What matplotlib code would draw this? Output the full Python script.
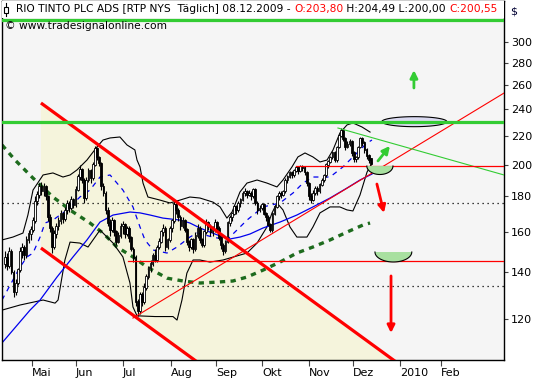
import numpy as np
import matplotlib
matplotlib.use("Agg")
import matplotlib.pyplot as plt
from matplotlib.patches import Rectangle, FancyArrowPatch, Polygon

# ---------------- data (daily bars, Apr..Dec 8 2009) ----------------
opens = [144,147,143,150,140,131,135,141,150,152,148,156,159,161,166,177,181,186,183,186,
         180,168,162,152,159,163,166,170,167,172,176,173,178,175,184,192,197,190,179,190,
         196,191,200,211,205,201,186,182,172,165,161,166,160,155,158,163,164,159,162,157,
         151,147,127,123,130,127,133,138,142,144,148,146,152,155,160,162,152,156,162,166,
         175,172,168,163,166,161,155,152,156,151,158,162,156,153,160,165,163,160,161,165,
         162,157,153,150,155,165,168,170,174,172,176,178,182,183,181,182,180,184,176,172,
         173,175,170,168,164,161,170,174,180,182,181,183,190,192,195,193,196,198,196,199,
         198,195,188,180,178,182,185,183,187,190,193,200,202,205,208,203,212,220,224,218,
         212,214,216,208,204,205,212,218,215,210,206,203.80]
highs = [150,149,152,151,141,137,142,152,154,153,158,161,163,168,180,183,188,189,188,187,
         181,170,163,161,165,168,172,171,174,178,177,180,179,186,194,200,198,191,192,198,
         197,202,213,212,206,202,188,183,174,167,168,167,161,160,165,166,165,163,163,158,
         152,148,128,131,131,135,139,143,146,149,151,153,157,161,164,163,157,163,167,177,
         177,173,169,168,167,162,156,157,157,160,164,163,157,161,167,166,164,163,167,166,
         163,158,154,156,166,169,171,175,175,177,179,183,185,184,184,183,185,185,177,175,
         176,176,171,169,165,171,175,181,183,183,184,191,193,196,196,197,199,199,200,200,
         199,196,189,182,184,186,186,188,191,194,201,203,206,209,209,213,221,226,225,219,
         216,218,217,209,206,213,219,219,216,211,207,204.49]
lows = [142,141,142,139,129,130,134,140,147,146,147,154,156,160,165,175,179,181,180,178,
        166,160,149,151,157,161,164,165,166,170,171,172,173,174,183,190,188,176,178,189,
        188,190,199,203,199,184,180,170,163,158,160,158,153,154,157,159,157,158,155,150,
        145,125,121,122,125,126,132,137,140,143,145,145,151,154,158,150,151,155,160,165,
        170,166,161,162,160,153,150,151,149,150,157,154,152,152,159,161,158,158,160,160,
        156,151,148,149,154,163,166,169,170,171,174,177,180,179,180,178,179,175,170,171,
        172,169,166,163,160,160,169,173,178,179,180,182,188,191,191,192,195,194,195,196,
        193,186,178,176,177,181,181,182,186,189,192,198,201,204,202,202,211,219,216,210,
        211,213,206,202,202,204,211,213,208,204,201,200.00]
closes = [147,143,150,140,131,135,141,150,152,148,156,159,161,166,177,181,186,183,186,180,
          168,162,152,159,163,166,170,167,172,176,173,178,175,184,192,197,190,179,190,196,
          191,200,211,205,201,186,182,172,165,161,166,160,155,158,163,164,159,162,157,151,
          147,127,123,130,127,133,138,142,144,148,146,152,155,160,162,152,156,162,166,175,
          172,168,163,166,161,155,152,156,151,158,162,156,153,160,165,163,160,161,165,162,
          157,153,150,155,165,168,170,174,172,176,178,182,183,181,182,180,184,176,172,173,
          175,170,168,164,161,170,174,180,182,181,183,190,192,195,193,196,198,196,199,198,
          195,188,180,178,182,185,183,187,190,193,200,202,205,208,203,212,220,224,218,212,
          214,216,208,204,205,212,218,215,210,206,203,200.55]

# indicator lines (bar index, price)
bb_up_x = [-1.4,3.7,8.4,10.7,13.1,17.8,22.4,27.1,30.4,33.6,38.3,43,45.8,49.1,53.7,57,60.7,61.7,63.1,64.5,
           66.8,72.4,77.1,81.8,86.4,91.1,97.2,100.5,103.7,106.1,109.8,113.1,117.8,122.4,127.1,129.9,
           134.1,136.9,140.2,143.9,147.2,150.5,153.3,156.5,159.8,162.6,166.8,170.6]
bb_up_y = [155.8,157.3,159.4,169.2,183.8,193.2,194.5,191.9,193.2,196.4,203.0,212.0,216.9,218.4,219.1,213.4,209.9,203.0,198.4,188.1,
           179.6,177.8,176.1,177.8,179.6,179.0,176.6,173.8,167.5,170.9,182.6,188.1,190.0,188.1,185.7,190.0,
           198.4,205.1,207.8,205.1,201.7,203.0,209.9,222.0,228.0,229.5,226.5,222.7]
bb_lo_x = [-1.4,7,17.8,23.4,24.8,28,30.4,35,38.8,44.4,50.5,55.1,58.4,59.8,61.7,70.1,78.5,80.4,82.7,85,87.9,
           91.1,95.8,101.9,109.8,113.1,117.8,122.4,124.8,127.1,129.9,133.2,136.4,141.1,143.9,147.2,151.9,
           156.5,159.8,162.6,165.9,169.2,171.5]
bb_lo_y = [123.5,125.6,127.7,126.4,127.7,145.8,154.7,154.2,152.2,161.0,154.2,147.3,135.1,124.8,121.2,120.9,120.9,119.5,127.7,139.6,145.8,
           145.8,144.8,145.8,148.2,149.2,154.2,162.6,170.4,176.1,172.1,162.6,157.3,157.3,162.6,170.4,173.8,
           173.8,172.1,171.5,180.8,195.1,201.0]
ma50_x = [-1.4,11.7,16.4,24.3,31.8,38.3,44.4,50.5,58.4,63.1,67.8,73.8,81.8,86.4,91.1,95.8,101.9,105.1,
          109.8,114.5,120.6,128.5,136.4,143.9,151.9,159.8,165.9,171.5]
ma50_y = [110.8,123.5,127.7,137.8,147.3,155.8,165.3,169.2,170.9,170.4,169.2,167.5,166.4,164.8,162.1,159.9,157.3,156.3,
          157.3,158.9,162.1,165.3,169.2,173.8,179.0,185.0,190.0,193.8]
ma20_x = [-1.4,7,10.3,13.1,16.4,18.7,22.4,29,35,39.7,44.4,49.1,55.1,59.8,63.1,65.4,69.2,75.7,80.4,86.4,
          89.7,97.2,103.7,108.4,113.1,120.6,128.5,134.6,139.3,143.9,151.9,157.9,165.9,169.2,171.5]
ma20_y = [127.7,142.4,147.3,149.2,157.3,164.8,166.4,172.1,179.6,183.8,191.9,193.2,183.8,173.8,162.6,155.8,150.7,149.2,152.2,157.3,
          159.4,157.3,155.8,161.0,166.4,173.8,176.1,182.0,188.1,191.9,191.9,198.4,209.9,214.8,216.9]
ma200_x = [-1.4,4.7,13.1,22.4,31.8,39.7,45.8,52.3,59.8,66.4,75.7,83.2,91.1,99.1,106.5,113.1,120.6,
           128.5,136.4,143.9,151.9,159.8,167.3,170.6]
ma200_y = [213.4,203.0,191.2,179.6,170.9,164.8,159.4,152.2,147.3,142.4,137.3,136.0,135.1,135.5,136.0,137.8,141.0,
           144.8,149.2,152.2,155.8,159.9,163.7,164.8]

# drawn trend lines / levels (bar index, price)
channel_top = [(16.8, 245.2), (190.0, 100.2)]
channel_bot = [(16.8, 151.7), (100.0, 98.7)]
rise_line = [(59.8, 120.3), (233.2, 253.4)]
fall_line = [(155.6, 225.7), (233.2, 193.2)]
red_levels = [(199.0, 136.0), (145.2, 57.5)]
green_levels = [322.7, 230.5]
dotted_levels = [176.1, 133.8]

month_labels = ["Mai", "Jun", "Jul", "Aug", "Sep", "Okt", "Nov", "Dez", "2010", "Feb"]
month_pos = [12.6, 33.2, 55.1, 77.6, 98.6, 120.1, 142.1, 162.6, 184.6, 203.7]
price_ticks = [120, 140, 160, 180, 200, 220, 240, 260, 280, 300]

# ---------------- figure ----------------
plt.rcParams["font.family"] = ["DejaVu Sans"]
fig = plt.figure(figsize=(5.33, 3.80), dpi=100)
ax = fig.add_axes([2 / 533, 20 / 380, 502 / 533, 359 / 380])
ax.set_facecolor("#f5f5f5")
ax.set_yscale("log")
ax.set_xlim(-1.4, 233.2)
ax.set_ylim(104.7, 343.7)

# channel shading
(cx0, cy0), (cx1, cy1) = channel_top
(dx0, dy0), (dx1, dy1) = channel_bot
ax.add_patch(Polygon([(cx0, dy0), (cx0, cy0), (cx1, cy1), (dx1, dy1)], closed=True,
                     facecolor="#f5f4dc", edgecolor="none", zorder=0.5))

for lv in dotted_levels:
    ax.axhline(lv, color="black", lw=0.9, linestyle=(0, (1, 3)), zorder=1)

ax.plot(ma200_x, ma200_y, color="#1d6b1d", lw=2.4, linestyle=(0, (1.6, 1.6)), zorder=2)
ax.plot(bb_up_x, bb_up_y, color="black", lw=0.8, zorder=2)
ax.plot(bb_lo_x, bb_lo_y, color="black", lw=0.8, zorder=2)
ax.plot(ma50_x, ma50_y, color="#0000ee", lw=0.9, zorder=2.2)
ax.plot(ma20_x, ma20_y, color="#0000ee", lw=0.9, linestyle=(0, (4, 4)), zorder=2.2)

# candles
x = np.arange(len(closes))
o = np.array(opens, float); c = np.array(closes, float)
h = np.array(highs, float); l = np.array(lows, float)
ax.vlines(x, l, h, color="black", lw=0.8, zorder=3)
up = c >= o
bot = np.minimum(o, c); hgt = np.abs(c - o) + 0.3
ax.bar(x[up], hgt[up], bottom=bot[up], width=0.8, color="white", edgecolor="black", lw=0.6, zorder=3.2)
ax.bar(x[~up], hgt[~up], bottom=bot[~up], width=0.8, color="black", edgecolor="black", lw=0.6, zorder=3.2)

# trend lines
ax.plot(*zip(*channel_top), color="#ff0000", lw=2.3, zorder=4, solid_capstyle="butt")
ax.plot(*zip(*channel_bot), color="#ff0000", lw=2.3, zorder=4, solid_capstyle="butt")
ax.plot(*zip(*rise_line), color="#ff0000", lw=0.8, zorder=4)
ax.plot(*zip(*fall_line), color="#33cc33", lw=0.8, zorder=4)
for lv, start in red_levels:
    ax.plot([start, 233.2], [lv, lv], color="#ff0000", lw=0.9, zorder=4)

# ellipse on green level (drawn under the green line)
def ell(xc, pc, a, b, t):
    return xc + a * np.cos(t), pc * np.exp(b * np.sin(t))

t = np.linspace(0, 2 * np.pi, 100)
ex, ey = ell(191.3, 230.5, 15.2, 0.0166, t)
ax.fill(ex, ey, facecolor="#dadaf0", edgecolor="black", lw=0.8, zorder=4.5)
for lv in green_levels:
    ax.axhline(lv, color="#33cc33", lw=2.3, zorder=5)

# bowls
tb = np.linspace(np.pi, 2 * np.pi, 60)
for xc, pc, a, b in [(175.2, 199.0, 6.1, 0.028), (181.5, 149.7, 8.6, 0.033)]:
    bx, by = ell(xc, pc, a, b, tb)
    ax.fill(bx, by, facecolor="#a8e0a0", edgecolor="none", zorder=5.5)
    ax.plot(bx, by, color="black", lw=0.8, zorder=5.6)

# arrows
arrows = [((191.1, 257.7), (191.1, 273.4), "#33cc33"),
          ((174.3, 202.4), (179.9, 212.7), "#33cc33"),
          ((173.8, 187.5), (177.1, 170.4), "#ff0000"),
          ((180.4, 138.3), (180.4, 114.5), "#ff0000")]
for p0, p1, col in arrows:
    ax.add_patch(FancyArrowPatch(p0, p1, arrowstyle="-|>", mutation_scale=11, lw=2,
                                 color=col, zorder=6, shrinkA=0, shrinkB=0))

# axes styling
for s in ax.spines.values():
    s.set_color("black"); s.set_linewidth(1)
ax.yaxis.tick_right()
ax.set_yticks(price_ticks)
ax.set_yticklabels([str(v) for v in price_ticks])
ax.yaxis.set_minor_locator(matplotlib.ticker.NullLocator())
ax.set_xticks(month_pos)
ax.set_xticklabels(month_labels, ha="left")
ax.tick_params(axis="y", direction="out", length=3, width=0.8, colors="#444444", labelcolor="black",
               labelsize=8, pad=2)
ax.tick_params(axis="x", direction="out", length=4, width=0.8, colors="#444444", labelcolor="black",
               labelsize=8, pad=2)

# title strip
FS = 7.7
ax.add_patch(Rectangle((0, 0.953), 1, 0.047, transform=ax.transAxes, facecolor="white",
                       edgecolor="none", zorder=7))
ax.plot([4 / 502, 4 / 502], [1 - 2 / 359, 1 - 15 / 359], transform=ax.transAxes, color="black", lw=0.8, zorder=8)
ax.add_patch(Rectangle((2.3 / 502, 1 - 12 / 359), 3.6 / 502, 6 / 359, transform=ax.transAxes,
                       facecolor="white", edgecolor="black", lw=0.8, zorder=8.5))
t1 = ax.text(14 / 502, 1 - 8.5 / 359, "RIO TINTO PLC ADS [RTP NYS  Täglich] 08.12.2009 - ",
             transform=ax.transAxes, fontsize=FS, va="center", ha="left", zorder=9)
t2 = ax.annotate("O:203,80", xy=(1, 0), xycoords=t1, va="bottom", ha="left", fontsize=FS, color="#ff0000", zorder=9)
t3 = ax.annotate(" H:204,49 L:200,00 ", xy=(1, 0), xycoords=t2, va="bottom", ha="left", fontsize=FS, zorder=9)
t4 = ax.annotate("C:200,55", xy=(1, 0), xycoords=t3, va="bottom", ha="left", fontsize=FS, color="#ff0000", zorder=9)
ax.text(3 / 502, 1 - 25.5 / 359, "© www.tradesignalonline.com", transform=ax.transAxes,
        fontsize=FS, va="center", ha="left", zorder=9)
fig.text(510 / 533, 1 - 11 / 380, "$", fontsize=8, color="#000033", ha="left", va="center")

fig.savefig("out.png", dpi=100, facecolor="white")
